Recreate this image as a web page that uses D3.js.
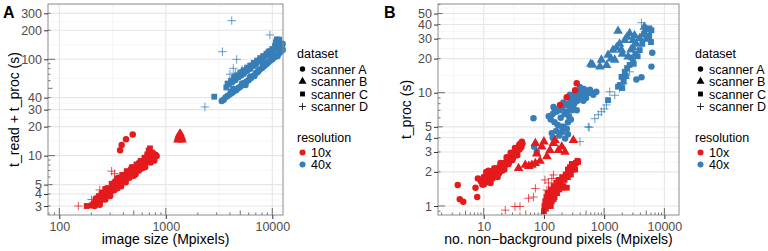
<!DOCTYPE html>
<html>
<head>
<meta charset="utf-8">
<script src="https://d3js.org/d3.v7.min.js"></script>
<style>
    body { margin: 0; background: #fff; }
    svg { font-family: "Liberation Sans", Arial, sans-serif; }
    .axis path { display: none; }
    .axis line { stroke: #333; }
    .axis text { fill: #4d4d4d; font-size: 12.5px; }
</style>
</head>
<body>
<script>
// axis breaks
const aXTicks = [100, 1000, 10000];
const aYTicks = [3, 4, 5, 10, 20, 30, 40, 100, 200, 300];
const bXTicks = [10, 100, 1000, 10000];
const bYTicks = [1, 2, 3, 4, 5, 10, 20, 30, 40, 50];

const datasets = ["scanner A", "scanner B", "scanner C", "scanner D"];
const resolutions = ["10x", "40x"];
const resColors = ["#e41a1c", "#377eb8"];

// panel A: image size (Mpixels) vs t_read + t_proc (s)
const aScanA10 = [[200,3.05],[210,3.2],[215,3.0],[222,3.35],[230,3.3],[238,3.6],[245,3.45],[252,3.8],[260,3.65],[268,4.0],
    [275,3.85],[282,4.2],[290,4.05],[298,4.0],[300,4.45],[310,4.3],[318,4.7],[325,4.5],[335,4.95],[342,4.75],[350,5.2],
    [360,5.0],[368,5.45],[378,5.25],[388,5.7],[398,5.5],[408,5.95],[418,5.7],[428,6.2],[440,6.0],[450,6.5],[462,6.25],
    [475,6.8],[488,6.55],[500,7.1],[515,6.85],[530,7.4],[545,7.2],[560,7.7],[575,7.5],[590,8.1],[605,7.85],[620,8.45],
    [640,8.2],[655,8.8],[670,8.6],[690,9.2],[705,9.0],[720,9.6],[740,9.4],[760,9.9],[780,9.7],[800,10.2],[820,9.9],
    [700,10.5],[680,10.0],[560,8.4],[470,7.2],[400,6.3],[340,5.5],[330,4.4],[455,5.9],[600,7.4],
    [220,3.6],[250,4.1],[280,4.6],[300,3.8],[330,5.3],[360,5.9],[380,4.8],[420,5.3],[440,6.8],[480,7.6],[520,6.4],
    [560,7.0],[600,8.7],[640,7.6],[680,9.4],[720,8.5],[760,10.5],[780,8.9],[240,3.1],[270,3.5],[350,4.6],[500,6.2],
    [650,9.6],[720,10.7],
    [372,11.4],[385,12.9],[423,14.8],[489,16.6]];
const aScanB10 = [[1300,14.6],[1330,14.8],[1360,14.7],[1390,14.9],[1420,14.6],[1320,15.5],[1350,15.6],[1380,15.8],
    [1340,16.5],[1365,16.9],[1370,15.3],[1400,15.5]];
const aScanC10 = [[181,3.0],[235,3.8],[270,4.5],[310,5.1],[350,5.8],[390,6.3],[430,6.9],[480,7.5],[530,8.1],[580,8.8],
    [630,9.5],[670,10.3],[690,11.3],[710,11.9],[740,10.8],[760,10.4]];
const aScanD10 = [[151,3.0],[201,3.5],[240,4.4],[310,6.9],[330,6.5]];
const aScanA40 = [[3350,37],[3500,38],[3650,40.5],[3800,41.5],[4000,43.5],[4200,45],[4400,47],[4600,48],[4800,50.5],
    [5000,52],[5250,54],[5500,57],[5750,59],[6000,61],[6300,64],[6600,67],[7000,72],[7300,74],[7600,78],[8000,81],
    [8400,85],[8800,89],[9200,93],[9600,97],[10000,100],[10500,105],[11000,110],[11500,115],[12000,120],[12500,125],
    [4300,49.5],[5600,54],[6800,67],[8200,86],[9800,102],[11200,108],[12400,130],
    [4100,46],[5200,56],[6200,66],[7400,77],[8600,91],[10200,106],[11800,124],
    [3900,55],[4200,58],[4500,61],[4800,65],[5100,68],[5400,71],[5800,76],[6200,80],[6600,85],[7000,89],[7500,95],
    [8000,100],[8500,106],[9000,112],[9500,118],[10000,123],[10500,129],[11000,134],[11500,138],[12000,142],[12500,145],
    [4400,66],[5300,75],[6400,86],[7700,100],[9200,120],[11200,140]];
const aScanC40 = [[2850,40.9],[3700,51],[3800,56],[4100,60],[4400,64],[4700,68],[5000,72],[5400,77],[5800,82],[6200,86],
    [6700,92],[7200,97],[7700,103],[8200,108],[8800,114],[9400,121],[10000,128],[10600,138],[10800,150],[11000,161],
    [11600,160],[11300,152]];
const aScanD40 = [[2330,32],[3400,120],[4160,252],[4300,80.6],[4630,100],[9500,179],[4000,70],[5200,78],[4500,72]];

// panel B: no. non-background pixels (Mpixels) vs t_proc (s)
const bScanA10 = [[8,1.75],[9,1.65],[9.5,1.55],[10,1.8],[10.5,1.6],[11,1.75],[12,1.7],[12,1.9],[13,1.8],[14,2.0],
    [14,1.75],[15,1.9],[16,2.1],[16,1.85],[17,2.0],[18,2.2],[18,1.95],[19,2.1],[20,2.3],[20,2.05],[21,2.2],[22,2.4],
    [23,2.3],[24,2.5],[25,2.35],[26,2.6],[27,2.5],[28,2.7],[29,2.6],[30,2.8],[31,2.7],[32,2.9],[33,3.0],[34,2.85],
    [35,3.1],[36,3.0],[37,3.2],[38,3.3],[39,3.15],[40,3.4],[41,3.5],[42,3.6],[43,3.7],[44,3.55],
    [11,2.0],[13,1.6],[15,2.15],[17,1.8],[19,2.4],[22,2.1],[24,2.7],[26,2.35],[28,2.95],[30,2.55],[33,3.25],
    [36,2.8],[39,3.5],[42,3.3],[10,1.55],[12,2.05],
    [3.7,1.53],[4.0,1.15],[4.57,1.09],[7.8,1.2],[7.3,1.45],
    [350,12.1],[330,10.5],[239,9.1],[185,7.8]];
const bScanB10 = [[37.9,2.15],[49,2.3],[56,2.25],[63,2.3],[72,2.38],[76,2.9],[86,2.5],[92,3.34],[100,3.7],[112,2.73],
    [126,3.1],[144,3.58],[153,3.8],[174,3.1],[198,3.34],[224,3.0],[72,3.58],[308,3.8]];
const bScanC10 = [[100,0.9],[102,1.0],[105,1.1],[108,0.95],[110,1.2],[112,1.05],[115,1.3],[118,1.15],[120,1.0],
    [125,1.25],[130,1.4],[135,1.1],[140,1.3],[145,1.5],[150,1.2],[155,1.4],[160,1.6],[165,1.3],[170,1.5],[175,1.7],
    [180,1.4],[190,1.6],[200,1.8],[210,1.5],[220,1.7],[230,1.9],[240,1.45],[250,1.8],[260,2.0],[270,2.2],[280,1.9],
    [300,2.1],[320,2.3],[340,2.4],[360,2.5],[370,2.45],[330,2.1],[290,2.35],[250,2.1],[200,1.45],[130,1.0],[145,1.15]];
const bScanD10 = [[22.8,0.92],[33,0.99],[40,0.99],[55.5,1.17],[67,1.2],[72,1.43],[104,1.7],[119,1.6],[135,1.75],
    [144,1.88],[112,1.38]];
const bScanA40 = [[120,6.2],[130,5.8],[140,6.5],[150,5.5],[160,6.8],[170,5.2],[180,7.0],[190,6.0],[200,7.3],[210,5.0],
    [220,6.5],[225,3.95],[198,5.0],[230,7.8],[240,6.8],[250,8.0],[260,6.2],[270,7.5],[280,8.6],[290,7.0],[300,9.0],
    [320,8.0],[340,9.5],[360,8.5],[380,10.0],[400,9.2],[420,10.5],[440,9.6],[460,10.8],[480,10.0],[500,10.4],
    [520,9.8],[550,10.2],[580,10.6],[620,10.0],[660,9.6],[740,10.2],[397,11.2],[300,7.5],[250,5.5],[200,4.5],
    [180,4.2],[160,4.6],[240,4.8],[280,5.8],[350,7.0],[450,8.5],[500,9.0],[150,7.2],[140,4.0],[210,8.2],[330,10.2],
    [270,9.6],[250,4.3],[144,7.5],
    [67,5.95],[69,3.34],[76,3.0],[135,4.4],
    [6300,22.5],[6100,17],[3430,13.1],[4170,13.7]];
const bScanB40 = [[600,17.9],[643,17.6],[850,17],[900,19.5],[1160,21.5],[1400,23.8],[1700,35],[1940,23.8],[2200,29],
    [2500,20.8],[2650,33.5],[3430,27],[3900,30.2],[5000,36.2],[1300,20],[1600,25],[1800,27],[2000,22],[2400,31],
    [3000,25],[3030,29],[3200,32],[4500,33],[4650,38],[5500,30],[2800,24],[1500,19.5],[1100,17.5]];
const bScanC40 = [[1160,8.6],[1820,11.7],[1940,13.8],[2200,15.3],[2650,17.6],[3000,19.4],[3900,23.8],[5000,30],
    [6100,35.6],[2100,12.5],[2400,16.5],[2800,20.5],[3300,22],[3600,21],[4300,27],[4600,33],[5600,32],[2000,11],
    [2300,14],[3100,18],[6000,28],[1700,11.3],[5650,37]];
const bScanD40 = [[397,3.7],[544,5.0],[565,4.95],[700,5.9],[900,6.8],[1090,7.8],[1240,10.2],[2080,12.1],[2650,15.3],
    [4170,41.5],[1000,7.2],[1500,9.5],[1800,11],[800,6.4],[2300,13.5]];

const seriesA = [
    { set: 0, res: 1, pts: aScanA40 }, { set: 2, res: 1, pts: aScanC40 }, { set: 3, res: 1, pts: aScanD40 },
    { set: 0, res: 0, pts: aScanA10 }, { set: 1, res: 0, pts: aScanB10 }, { set: 2, res: 0, pts: aScanC10 },
    { set: 3, res: 0, pts: aScanD10 }
];
const seriesB = [
    { set: 0, res: 1, pts: bScanA40 }, { set: 1, res: 1, pts: bScanB40 }, { set: 2, res: 1, pts: bScanC40 },
    { set: 3, res: 1, pts: bScanD40 },
    { set: 0, res: 0, pts: bScanA10 }, { set: 1, res: 0, pts: bScanB10 }, { set: 2, res: 0, pts: bScanC10 },
    { set: 3, res: 0, pts: bScanD10 }
];

const svg = d3.select("body").append("svg")
    .attr("width", 768)
    .attr("height", 251);

// symbol path for each dataset (circle, triangle, square, plus)
function shapePath(set, k) {
    k = k || 1;
    if (set === 0) return d3.symbol(d3.symbolCircle, 33 * k)();
    if (set === 1) return d3.symbol(d3.symbolTriangle, 40 * k)();
    if (set === 2) return d3.symbol(d3.symbolSquare, 34 * k)();
    const h = 4.2 * Math.sqrt(k);
    return `M${-h},0H${h}M0,${-h}V${h}`;
}

// ggplot-like minor breaks: midpoints between breaks (log space)
function minorBreaks(br, dom) {
    const lb = br.map(Math.log10);
    const lo = Math.log10(dom[0]), hi = Math.log10(dom[1]);
    if (lo < lb[0]) lb.unshift(lb[0] - (lb[1] - lb[0]));
    const n = lb.length;
    if (hi > lb[n - 1]) lb.push(lb[n - 1] + (lb[n - 1] - lb[n - 2]));
    const out = [];
    for (let i = 0; i < lb.length - 1; i++) {
        const m = (lb[i] + lb[i + 1]) / 2;
        if (m > lo && m < hi) out.push(Math.pow(10, m));
    }
    return out;
}

function drawPanel(cfg) {
    const x = d3.scaleLog().domain(cfg.xDom).range([cfg.left, cfg.right]);
    const y = d3.scaleLog().domain(cfg.yDom).range([cfg.bottom, cfg.top]);
    const g = svg.append("g");

    // gridlines
    const grid = g.append("g");
    minorBreaks(cfg.xTicks, cfg.xDom).forEach(v => grid.append("line")
        .attr("x1", x(v)).attr("x2", x(v)).attr("y1", cfg.top).attr("y2", cfg.bottom)
        .attr("stroke", "#f0f0f0").attr("stroke-width", 0.6));
    minorBreaks(cfg.yTicks, cfg.yDom).forEach(v => grid.append("line")
        .attr("y1", y(v)).attr("y2", y(v)).attr("x1", cfg.left).attr("x2", cfg.right)
        .attr("stroke", "#f0f0f0").attr("stroke-width", 0.6));
    cfg.xTicks.forEach(v => grid.append("line")
        .attr("x1", x(v)).attr("x2", x(v)).attr("y1", cfg.top).attr("y2", cfg.bottom)
        .attr("stroke", "#e6e6e6").attr("stroke-width", 1.1));
    cfg.yTicks.forEach(v => grid.append("line")
        .attr("y1", y(v)).attr("y2", y(v)).attr("x1", cfg.left).attr("x2", cfg.right)
        .attr("stroke", "#e6e6e6").attr("stroke-width", 1.1));

    // points
    cfg.series.forEach(s => {
        const col = resColors[s.res];
        g.append("g").selectAll("path")
            .data(s.pts)
            .join("path")
            .attr("transform", d => `translate(${x(d[0])},${y(d[1])})`)
            .attr("d", shapePath(s.set))
            .attr("fill", s.set === 3 ? "none" : col)
            .attr("stroke", s.set === 3 ? col : "none")
            .attr("stroke-width", 1)
            .attr("opacity", s.set === 3 ? 0.75 : 1);
    });

    // log ticks inside the panel
    const lt = g.append("g").attr("stroke", "#333").attr("stroke-width", 0.7);
    function logVals(dom) {
        const v = [];
        for (let e = Math.floor(Math.log10(dom[0])); e <= Math.ceil(Math.log10(dom[1])); e++) {
            for (let k = 1; k <= 9; k++) {
                const val = k * Math.pow(10, e);
                if (val >= dom[0] && val <= dom[1]) v.push([val, k === 1 ? 7 : (k === 5 ? 4.5 : 2.5)]);
            }
        }
        return v;
    }
    logVals(cfg.xDom).forEach(([v, len]) => lt.append("line")
        .attr("x1", x(v)).attr("x2", x(v)).attr("y1", cfg.bottom).attr("y2", cfg.bottom - len));
    logVals(cfg.yDom).forEach(([v, len]) => lt.append("line")
        .attr("y1", y(v)).attr("y2", y(v)).attr("x1", cfg.left).attr("x2", cfg.left + len));

    // panel border
    g.append("rect")
        .attr("x", cfg.left).attr("y", cfg.top)
        .attr("width", cfg.right - cfg.left).attr("height", cfg.bottom - cfg.top)
        .attr("fill", "none").attr("stroke", "#8c8c8c").attr("stroke-width", 1);

    // axes
    g.append("g")
        .attr("class", "axis")
        .attr("transform", `translate(0,${cfg.bottom})`)
        .call(d3.axisBottom(x).tickValues(cfg.xTicks).tickSize(4).tickPadding(3).tickFormat(d3.format("d")));
    g.append("g")
        .attr("class", "axis")
        .attr("transform", `translate(${cfg.left},0)`)
        .call(d3.axisLeft(y).tickValues(cfg.yTicks).tickSize(4).tickPadding(2).tickFormat(d3.format("d")));

    // axis titles
    g.append("text")
        .attr("x", (cfg.left + cfg.right) / 2).attr("y", 244)
        .attr("text-anchor", "middle").attr("font-size", 14).attr("fill", "#000")
        .text(cfg.xTitle);
    g.append("text")
        .attr("transform", `translate(${cfg.yTitleX},${(cfg.top + cfg.bottom) / 2}) rotate(-90)`)
        .attr("text-anchor", "middle").attr("font-size", 14).attr("fill", "#000")
        .text(cfg.yTitle);

    // panel letter
    g.append("text")
        .attr("x", cfg.tagX).attr("y", 18)
        .attr("font-size", 16).attr("font-weight", "bold").attr("fill", "#000")
        .text(cfg.tag);

    // legend
    const lg = g.append("g").attr("font-size", 12.5).attr("fill", "#000");
    lg.append("text").attr("x", cfg.legX).attr("y", 58).text("dataset");
    datasets.forEach((d, i) => {
        const cy = 69 + i * 12.5;
        lg.append("path")
            .attr("transform", `translate(${cfg.legX + 5.5},${cy})`)
            .attr("d", shapePath(i, 0.7))
            .attr("fill", i === 3 ? "none" : "#000")
            .attr("stroke", i === 3 ? "#000" : "none")
            .attr("stroke-width", 0.8);
        lg.append("text").attr("x", cfg.legX + 14).attr("y", cy + 4.5).text(d);
    });
    lg.append("text").attr("x", cfg.legX).attr("y", 141.5).text("resolution");
    resolutions.forEach((r, i) => {
        const cy = 152.5 + i * 12;
        lg.append("circle").attr("cx", cfg.legX + 5.5).attr("cy", cy).attr("r", 3).attr("fill", resColors[i]);
        lg.append("text").attr("x", cfg.legX + 14).attr("y", cy + 4.5).text(r);
    });
}

drawPanel({
    left: 48, right: 283, top: 4, bottom: 215,
    xDom: [78.3, 12600], yDom: [2.42, 375],
    xTicks: aXTicks, yTicks: aYTicks,
    series: seriesA,
    xTitle: "image size (Mpixels)", yTitle: "t_read + t_proc (s)", yTitleX: 19,
    tag: "A", tagX: 3, legX: 297
});

drawPanel({
    left: 438, right: 679, top: 4, bottom: 215,
    xDom: [1.74, 17500], yDom: [0.833, 60.7],
    xTicks: bXTicks, yTicks: bYTicks,
    series: seriesB,
    xTitle: "no. non\u2212background pixels (Mpixels)", yTitle: "t_proc (s)", yTitleX: 411,
    tag: "B", tagX: 384, legX: 695
});
</script>
</body>
</html>
